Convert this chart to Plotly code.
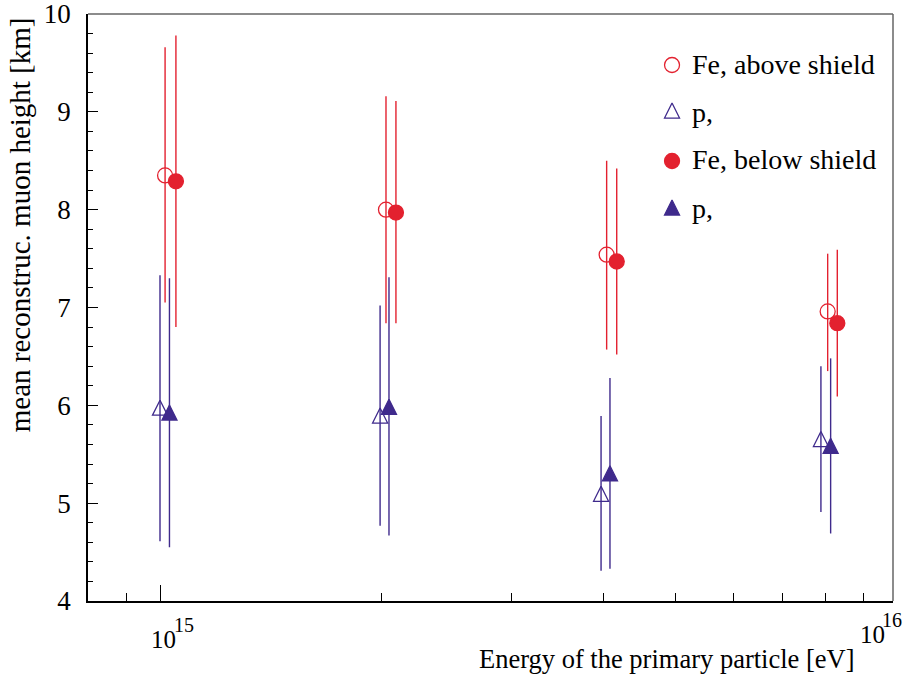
import plotly.graph_objects as go

# Primary energy [eV] per series (points are slightly staggered for readability)
energy_fe_above = [1.016e15, 2.026e15, 4.037e15, 8.053e15]
energy_p_above = [1.000e15, 1.989e15, 3.967e15, 7.885e15]
energy_fe_below = [1.051e15, 2.090e15, 4.166e15, 8.299e15]
energy_p_below = [1.030e15, 2.045e15, 4.079e15, 8.128e15]

# Mean reconstructed muon height [km] and the ends of the spread bars
height_fe_above = [8.35, 8.00, 7.54, 6.96]
upper_fe_above = [9.66, 9.16, 8.50, 7.55]
lower_fe_above = [7.05, 6.84, 6.57, 6.35]

height_p_above = [5.95, 5.87, 5.07, 5.63]
upper_p_above = [7.33, 7.02, 5.89, 6.40]
lower_p_above = [4.61, 4.77, 4.31, 4.91]

height_fe_below = [8.29, 7.97, 7.47, 6.84]
upper_fe_below = [9.78, 9.11, 8.42, 7.59]
lower_fe_below = [6.80, 6.84, 6.52, 6.09]

height_p_below = [5.90, 5.96, 5.28, 5.56]
upper_p_below = [7.30, 7.31, 6.28, 6.48]
lower_p_below = [4.55, 4.67, 4.33, 4.69]

series_names = ["Fe, above shield", "p,", "Fe, below shield", "p,"]
x_tick_values = [1e15, 1e16]
x_tick_bases = ["10", "10"]
x_tick_exponents = ["15", "16"]
x_minor_ticks = [9e14, 2e15, 3e15, 4e15, 5e15, 6e15, 7e15, 8e15, 9e15]

RED = "#e3212f"
PURPLE = "#3f2a8c"
FONT = "Liberation Serif"


def marker_style(color, symbol):
    m = dict(size=15, color=color, symbol=symbol, line=dict(color=color, width=1.3))
    if symbol.startswith("arrow"):
        # upward triangle centred on its point
        m.update(angle=180, standoff=10)
    return m


def trace(x, y, hi, lo, name, color, symbol):
    plus = [h - v for v, h in zip(y, hi)]
    minus = [v - l for v, l in zip(y, lo)]
    return go.Scatter(
        x=x, y=y, mode="markers", name=name, showlegend=False,
        marker=marker_style(color, symbol),
        error_y=dict(type="data", symmetric=False, array=plus, arrayminus=minus,
                     color=color, thickness=1.4, width=0),
    )


series = [
    (energy_fe_above, height_fe_above, upper_fe_above, lower_fe_above, RED, "circle-open"),
    (energy_p_above, height_p_above, upper_p_above, lower_p_above, PURPLE, "arrow-down-open"),
    (energy_fe_below, height_fe_below, upper_fe_below, lower_fe_below, RED, "circle"),
    (energy_p_below, height_p_below, upper_p_below, lower_p_below, PURPLE, "arrow-down"),
]

fig = go.Figure()
for (x, y, hi, lo, color, symbol), name in zip(series, series_names):
    fig.add_trace(trace(x, y, hi, lo, name, color, symbol))

# Key in the upper right corner, drawn on an invisible overlay axis pair
key_x = 0.7255
key_text_x = 0.7478
key_rows = [0.9131, 0.8313, 0.7496, 0.6661]
annotations = []
for (x, y, hi, lo, color, symbol), name, ky in zip(series, series_names, key_rows):
    fig.add_trace(go.Scatter(x=[key_x], y=[ky], xaxis="x2", yaxis="y2", mode="markers",
                             showlegend=False, hoverinfo="skip",
                             marker=marker_style(color, symbol)))
    annotations.append(dict(text=name, x=key_text_x, xref="paper", xanchor="left",
                            y=ky, yref="paper", yanchor="middle", yshift=1,
                            showarrow=False,
                            font=dict(family=FONT, size=28, color="black")))

# Decade labels on the energy axis: base "10" with a raised exponent
annotations += [
    dict(text=x_tick_bases[0], x=15, xref="x", xanchor="left", xshift=-11,
         y=-0.0664, yref="paper", yanchor="middle", showarrow=False,
         font=dict(family=FONT, size=25, color="black")),
    dict(text=x_tick_exponents[0], x=15, xref="x", xanchor="left", xshift=12,
         y=-0.0409, yref="paper", yanchor="middle", showarrow=False,
         font=dict(family=FONT, size=20, color="black")),
    dict(text=x_tick_bases[1], x=0.9565, xref="paper", xanchor="left",
         y=-0.0579, yref="paper", yanchor="middle", showarrow=False,
         font=dict(family=FONT, size=25, color="black")),
    dict(text=x_tick_exponents[1], x=0.9839, xref="paper", xanchor="left",
         y=-0.0324, yref="paper", yanchor="middle", showarrow=False,
         font=dict(family=FONT, size=20, color="black")),
    dict(text="Energy of the primary particle [eV]", x=0.9553, xref="paper",
         xanchor="right", y=-0.128, yref="paper", yanchor="bottom", showarrow=False,
         font=dict(family=FONT, size=26.5, color="black")),
    dict(text="mean reconstruc. muon height [km]", textangle=-90, x=-0.085,
         xref="paper", xanchor="center", y=0.998, yref="paper", yanchor="top",
         showarrow=False, font=dict(family=FONT, size=29, color="black")),
]

fig.update_layout(
    width=912, height=677,
    margin=dict(l=88, r=19, t=14, b=76, autoexpand=False),
    paper_bgcolor="white", plot_bgcolor="white",
    font=dict(family=FONT, color="black"),
    showlegend=False,
    annotations=annotations,
    xaxis2=dict(overlaying="x", range=[0, 1], visible=False, fixedrange=True,
                automargin=False),
    yaxis2=dict(overlaying="y", range=[0, 1], visible=False, fixedrange=True,
                automargin=False),
    shapes=[
        dict(type="line", xref="paper", yref="paper", x0=0, x1=1, y0=1, y1=1,
             line=dict(color="#666666", width=1.5)),
        dict(type="line", xref="paper", yref="paper", x0=1, x1=1, y0=0, y1=1,
             line=dict(color="#666666", width=1.5)),
    ],
)

fig.layout.xaxis.update(
    type="log", range=[14.9023, 15.9946], automargin=False,
    showgrid=False, zeroline=False, showline=True, linecolor="black", linewidth=1.5,
    tickmode="array", tickvals=[x_tick_values[0]], showticklabels=False,
    ticks="inside", ticklen=16, tickwidth=1.3, tickcolor="black",
    minor=dict(tickmode="array", tickvals=x_minor_ticks, ticks="inside",
               ticklen=8, tickwidth=1.3, tickcolor="black", showgrid=False),
)
fig.layout.yaxis.update(
    range=[4, 10], automargin=False,
    showgrid=False, zeroline=False, showline=True, linecolor="black", linewidth=1.5,
    tickmode="linear", tick0=4, dtick=1,
    ticks="inside", ticklen=10, tickwidth=1.3, tickcolor="black",
    ticklabelstandoff=10, ticklabeloverflow="allow",
    tickfont=dict(family=FONT, size=27, color="black"),
    minor=dict(dtick=0.2, ticks="inside", ticklen=5, tickwidth=1.3,
               tickcolor="black", showgrid=False),
)

fig.write_html("out.html")
